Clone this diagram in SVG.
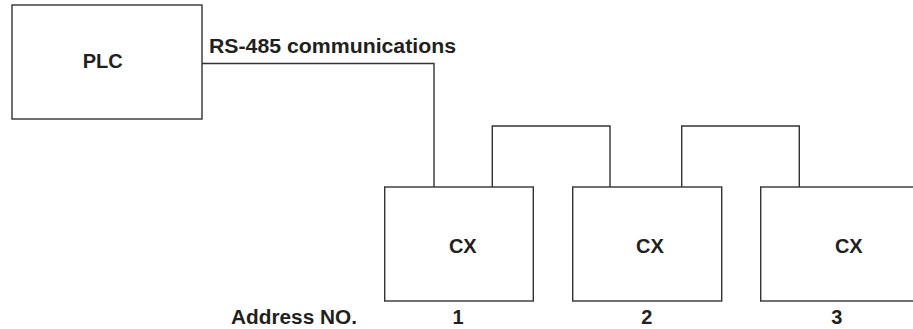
<svg xmlns="http://www.w3.org/2000/svg" width="913" height="329" viewBox="0 0 913 329">
<style>
.box{fill:#fff;stroke:#333;stroke-width:1.4}
.wire{fill:none;stroke:#333;stroke-width:1.4}
text{font-family:"Liberation Sans",Arial,Helvetica,sans-serif;font-weight:bold;font-size:20px;fill:#231f20}
.c{text-anchor:middle}
</style>
<rect width="913" height="329" fill="#fff"/>
<g id="connectors">
<polyline class="wire" points="202,63.5 434,63.5 434,187"/>
<polyline class="wire" points="492.3,187 492.3,126 610,126 610,187"/>
<polyline class="wire" points="681.7,187 681.7,126 799.3,126 799.3,187"/>
</g>
<g id="plc">
<rect class="box" x="12" y="5" width="190" height="114"/>
<text class="c" x="102.7" y="67.7">PLC</text>
</g>
<text id="rs485" x="209" y="53.3" textLength="247" lengthAdjust="spacingAndGlyphs">RS-485 communications</text>
<g id="cx1">
<rect class="box" x="384.7" y="187" width="148.6" height="114"/>
<text class="c" x="462.8" y="252.7">CX</text>
</g>
<g id="cx2">
<rect class="box" x="572.7" y="187" width="149" height="114"/>
<text class="c" x="650" y="252.7">CX</text>
</g>
<g id="cx3">
<rect class="box" x="760.7" y="187" width="170" height="114"/>
<text class="c" x="848.8" y="252.7">CX</text>
</g>
<g id="addresses">
<text x="231" y="324" textLength="126" lengthAdjust="spacingAndGlyphs">Address NO.</text>
<text class="c" x="458" y="324">1</text>
<text class="c" x="646.7" y="324">2</text>
<text class="c" x="836.7" y="324">3</text>
</g>
</svg>
